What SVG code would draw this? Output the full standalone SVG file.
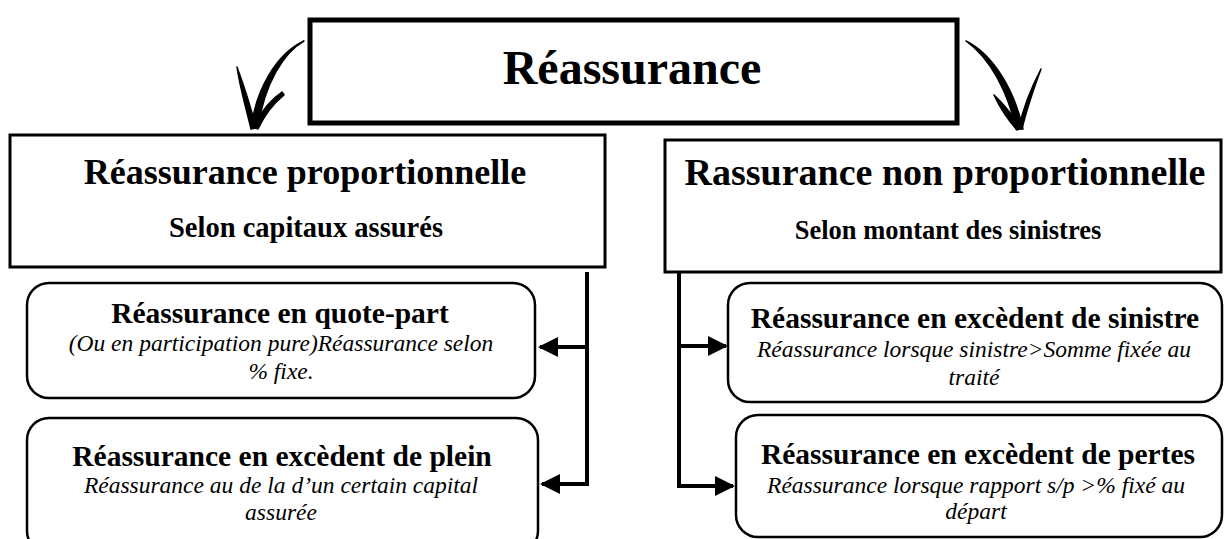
<svg xmlns="http://www.w3.org/2000/svg" width="1224" height="539" viewBox="0 0 1224 539">
<defs>
<style>
.box{fill:#fff;stroke:#000;stroke-width:3}
.sub{fill:#fff;stroke:#000;stroke-width:2.5}
text{font-family:'Liberation Serif','Times New Roman',Times,serif;fill:#000;text-anchor:middle}
.b{font-weight:bold}
.i{font-style:italic}
.h{font-size:29.5px}
.it{font-size:23.5px}
.conn{fill:none;stroke:#000;stroke-width:4}
.brush{fill:#000;stroke:#000;stroke-linejoin:round;stroke-width:1.5}
</style>
<marker id="ah" markerWidth="5" markerHeight="5" refX="4.5" refY="2.5" orient="auto" markerUnits="strokeWidth">
<path d="M0,0 L5,2.5 L0,5 Z" fill="#000"/>
</marker>
</defs>
<rect width="1224" height="539" fill="#fff"/>

<g id="title">
<rect x="310" y="20" width="647" height="103" fill="#fff" stroke="#000" stroke-width="5"/>
<text class="b" x="632" y="84" font-size="48">Réassurance</text>
</g>

<g id="curved-arrows">
<path class="brush" d="M304,41 C284,52 264,84 258,128 L251,128 C256,90 276,54 304,41 Z"/>
<path class="brush" d="M237,67 C244,86 251,108 256,128 L251,129 C246,108 240,88 237,67 Z"/>
<path class="brush" d="M253,127 C262,110 270,100 282,92 L284,95 C273,104 265,114 258,129 Z"/>
<path class="brush" d="M966,41 C992,54 1014,88 1023,129 L1016,129 C1008,92 990,58 966,41 Z"/>
<path class="brush" d="M994,95 C1004,104 1013,116 1021,128 L1017,130 C1008,120 1000,108 994,95 Z"/>
<path class="brush" d="M1041,69 C1034,88 1027,108 1022,129 L1019,128 C1023,108 1031,88 1041,69 Z"/>
</g>

<g id="prop">
<rect class="box" x="10" y="135" width="595" height="132"/>
<text class="b" x="305" y="184" font-size="36">Réassurance proportionnelle</text>
<text class="b" x="306" y="237" font-size="28.5">Selon capitaux assurés</text>
</g>

<g id="nonprop">
<rect class="box" x="665" y="140" width="556" height="132"/>
<text class="b" x="945" y="185" font-size="38">Rassurance non proportionnelle</text>
<text class="b" x="948" y="239" font-size="26.5">Selon montant des sinistres</text>
</g>

<g id="quote-part">
<rect class="sub" x="27" y="283" width="508" height="115" rx="22"/>
<text class="b h" x="280" y="323">Réassurance en quote-part</text>
<text class="i it" x="281" y="351">(Ou en participation pure)Réassurance selon</text>
<text class="i it" x="281" y="379">% fixe.</text>
</g>

<g id="plein">
<rect class="sub" x="27" y="418" width="511" height="135" rx="22"/>
<text class="b h" x="282" y="466">Réassurance en excèdent de plein</text>
<text class="i it" x="281" y="493">Réassurance au de la d’un certain capital</text>
<text class="i it" x="281" y="520">assurée</text>
</g>

<g id="sinistre">
<rect class="sub" x="728" y="283" width="494" height="119" rx="22"/>
<text class="b h" x="975" y="328">Réassurance en excèdent de sinistre</text>
<text class="i it" x="974" y="357">Réassurance lorsque sinistre&gt;Somme fixée au</text>
<text class="i it" x="974" y="385">traité</text>
</g>

<g id="pertes">
<rect class="sub" x="736" y="415" width="486" height="122" rx="22"/>
<text class="b h" x="978" y="464">Réassurance en excèdent de pertes</text>
<text class="i it" x="976" y="493">Réassurance lorsque rapport s/p &gt;% fixé au</text>
<text class="i it" x="976" y="519">départ</text>
</g>

<g id="connectors">
<path class="conn" d="M587,272 V486"/>
<path class="conn" d="M589,347 H540" marker-end="url(#ah)"/>
<path class="conn" d="M589,484 H542" marker-end="url(#ah)"/>
<path class="conn" d="M679,272 V488"/>
<path class="conn" d="M677,346 H726" marker-end="url(#ah)"/>
<path class="conn" d="M677,486 H733" marker-end="url(#ah)"/>
</g>
</svg>
